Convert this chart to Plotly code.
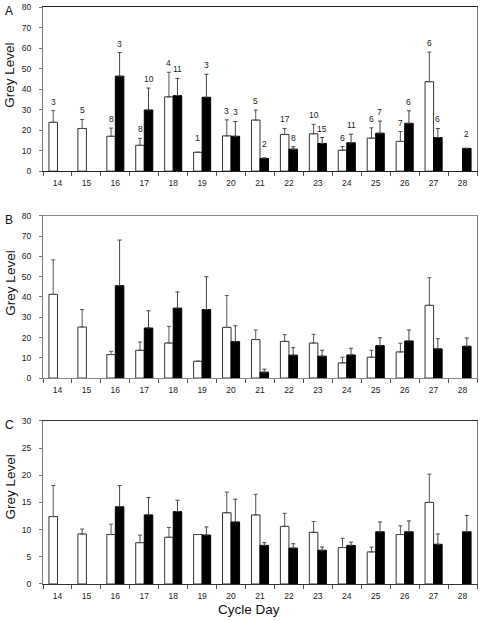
import plotly.graph_objects as go

days = [str(d) for d in range(14, 29)]

# Panel A
A_white = [23.8, 20.8, 17.0, 12.6, 36.2, 9.2, 17.2, 24.9, 17.9, 18.2, 10.2, 16.1, 14.5, 43.6, None]
A_white_err = [5.7, 4.4, 4.0, 3.4, 12.0, 0, 7.8, 4.9, 2.9, 4.6, 1.8, 5.0, 4.8, 14.4, None]
A_black = [None, None, 46.3, 29.8, 36.8, 36.0, 17.0, 6.2, 10.7, 13.5, 13.8, 18.5, 23.3, 16.4, 11.1]
A_black_err = [None, None, 11.5, 10.7, 8.4, 11.2, 7.2, 0.3, 1.2, 2.9, 4.2, 5.9, 6.1, 4.4, 0]
A_white_n = ["3", "5", "8", "8", "4", "1", "3", "5", "17", "10", "6", "6", "7", "6", ""]
A_black_n = ["", "", "3", "10", "11", "3", "3", "2", "8", "15", "11", "7", "6", "6", "2"]

# Panel B
B_white = [41.3, 25.2, 11.6, 13.7, 17.3, 8.3, 25.0, 19.0, 18.1, 17.3, 7.5, 10.3, 12.9, 35.9, None]
B_white_err = [17.0, 8.6, 1.6, 4.1, 8.2, 0, 15.7, 4.7, 3.3, 4.3, 2.8, 3.4, 4.3, 13.6, None]
B_black = [None, None, 45.6, 24.7, 34.5, 33.8, 18.0, 2.9, 11.3, 10.8, 11.4, 16.0, 18.3, 14.4, 15.7]
B_black_err = [None, None, 22.5, 8.5, 8.0, 16.2, 7.8, 1.5, 3.7, 2.9, 3.3, 3.9, 5.4, 5.0, 4.1]

# Panel C
C_white = [12.4, 9.2, 9.1, 7.6, 8.6, 9.1, 13.1, 12.7, 10.6, 9.5, 6.7, 5.9, 9.1, 15.0, None]
C_white_err = [5.7, 0.9, 1.9, 1.4, 1.8, 0, 3.8, 3.8, 2.4, 2.0, 1.7, 0.9, 1.6, 5.2, None]
C_black = [None, None, 14.2, 12.7, 13.3, 9.0, 11.4, 7.1, 6.6, 6.2, 7.1, 9.6, 9.6, 7.3, 9.6]
C_black_err = [None, None, 3.9, 3.2, 2.1, 1.5, 4.2, 0.5, 0.8, 0.6, 0.6, 1.8, 2.0, 1.9, 3.0]

panels = [
    ("A", A_white, A_white_err, A_black, A_black_err, 80, 10),
    ("B", B_white, B_white_err, B_black, B_black_err, 80, 10),
    ("C", C_white, C_white_err, C_black, C_black_err, 30, 5),
]

FONT = "Liberation Sans, Arial, sans-serif"
W, H = 480, 621
mt, mb, ml, mr = 4, 37, 43, 2
ph = H - mt - mb
pw = W - ml - mr
pix = [(4, 169), (214, 377), (420, 584)]
border_cols = ["#222", "#888", "#333"]

fig = go.Figure()
layout = dict(
    width=W, height=H,
    margin=dict(l=ml, r=mr, t=mt, b=mb),
    paper_bgcolor="white", plot_bgcolor="white",
    barmode="group", bargap=0.41, bargroupgap=0,
    showlegend=False,
    font=dict(family=FONT, size=9, color="#222"),
)
annotations = []

for i, (name, wv, we, bv, be, ymax, dt) in enumerate(panels):
    xa = "x" if i == 0 else f"x{i+1}"
    ya = "y" if i == 0 else f"y{i+1}"
    top, bot = pix[i]
    d0 = (H - mb - bot) / ph
    d1 = (H - mb - top) / ph
    fig.add_trace(go.Bar(
        x=days, y=wv, xaxis=xa, yaxis=ya, offsetgroup="w",
        marker=dict(color="white", line=dict(color="#333", width=1)),
        error_y=dict(type="data", symmetric=False, array=we,
                     arrayminus=[0 if v is not None else None for v in we],
                     color="#555", thickness=1, width=2),
    ))
    fig.add_trace(go.Bar(
        x=days, y=bv, xaxis=xa, yaxis=ya, offsetgroup="b",
        marker=dict(color="black", line=dict(color="black", width=1)),
        error_y=dict(type="data", symmetric=False, array=be,
                     arrayminus=[0 if v is not None else None for v in be],
                     color="#444", thickness=1, width=2),
    ))
    xkey = "xaxis" if i == 0 else f"xaxis{i+1}"
    ykey = "yaxis" if i == 0 else f"yaxis{i+1}"
    layout[xkey] = dict(
        type="category", domain=[0, 1], anchor=ya,
        categoryorder="array", categoryarray=days,
        range=[-0.5, len(days) - 0.5], autorange=False,
        tickson="boundaries", ticks="outside", ticklen=4, tickcolor="#555",
        showline=True, linecolor=border_cols[i], linewidth=1, mirror=True,
        showgrid=False, zeroline=False, tickangle=0,
        tickfont=dict(family=FONT, size=8.5, color="#222"),
        ticklabelstandoff=4,
    )
    layout[ykey] = dict(
        domain=[d0, d1], anchor=xa, range=[0, ymax], dtick=dt,
        ticks="outside", ticklen=3, tickcolor="#777",
        showline=True, linecolor="#777", linewidth=1, mirror=True,
        showgrid=False, zeroline=False,
        tickfont=dict(family=FONT, size=8.5, color="#222"),
        ticklabelstandoff=6,
    )
    annotations.append(dict(
        text=name, xref="paper", yref="paper",
        x=(3 - ml) / pw,
        y=(H - mb - (top + 4)) / ph, xanchor="left", yanchor="middle",
        showarrow=False, font=dict(family=FONT, size=12, color="#111"),
    ))
    yc = [73, 282, 487][i]
    annotations.append(dict(
        text="Grey Level", xref="paper", yref="paper", textangle=-90,
        x=(10 - ml) / pw,
        y=(H - mb - yc) / ph, xanchor="center", yanchor="middle",
        showarrow=False, font=dict(family=FONT, size=13.5, color="#111"),
    ))

# n labels for panel A (x given as category index)
for j, d in enumerate(days):
    for vals, errs, ns, xs in ((A_white, A_white_err, A_white_n, -4.25),
                               (A_black, A_black_err, A_black_n, 4.25)):
        if vals[j] is None or ns[j] == "":
            continue
        e = errs[j] or 0
        ys = 9 if e > 0.5 else 14
        annotations.append(dict(
            text=ns[j], x=j, y=vals[j] + e, xref="x", yref="y",
            xshift=xs, yshift=ys, xanchor="center", yanchor="middle",
            showarrow=False, font=dict(family=FONT, size=8.5, color="#222"),
        ))

annotations.append(dict(
    text="Cycle Day", xref="paper", yref="paper",
    x=(249 - ml) / pw, y=(H - mb - 610) / ph,
    xanchor="center", yanchor="middle", showarrow=False,
    font=dict(family=FONT, size=13.5, color="#111"),
))

layout["annotations"] = annotations
fig.update_layout(**layout)
fig.write_html("out.html",
               config={"displayModeBar": False, "staticPlot": True},
               post_script="document.body.style.margin='0px';document.body.style.overflow='hidden';")
